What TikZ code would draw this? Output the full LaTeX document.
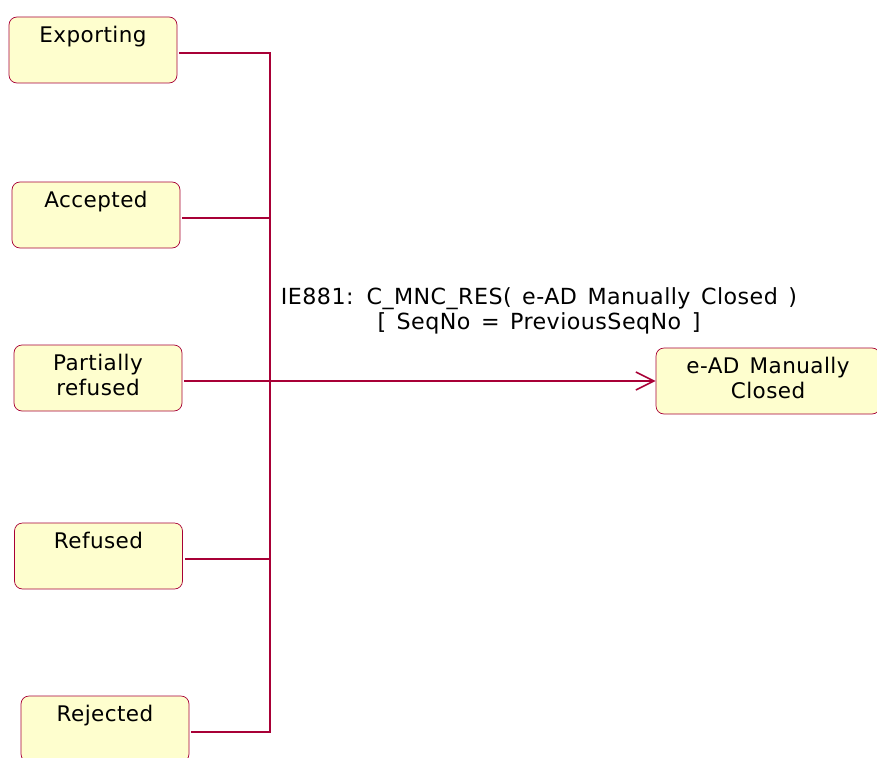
\documentclass[tikz,border=0pt]{standalone}
\usepackage{fontspec}
\setmainfont[LetterSpace=2, WordSpace=1.4]{DejaVu Sans}
\usetikzlibrary{arrows.meta}
\definecolor{umlred}{HTML}{A80036}
\definecolor{umlfill}{HTML}{FEFECE}
\begin{document}
\begin{tikzpicture}[x=1pt, y=-1pt,
    state/.style={draw=umlred, fill=umlfill, rounded corners=8pt, line width=0.7pt,
      minimum width=168pt, minimum height=66pt, inner sep=0pt},
    caption/.style={font=\fontsize{21.5}{25}\selectfont, align=center, anchor=north, inner sep=0pt},
    link/.style={draw=umlred, line width=1.6pt}]
  \useasboundingbox (0,0) rectangle (877,757);

  % Source states
  \foreach \n/\t/\x/\y in {
    exp/Exporting/93/50,
    acc/Accepted/96/215,
    par/{Partially\\refused}/98/378,
    ref/Refused/98.5/556,
    rej/Rejected/105/729
  } {
    \node [state] (\n) at (\x, \y) {};
    \node [caption] (\n-txt) at ([yshift=-9pt]\n.north) {\t};
  }

  % Target state
  \node [state, minimum width=224pt] (tgt) at (768, 381) {};
  \node [caption] (tgt-txt) at ([yshift=-9pt]tgt.north) {e-AD Manually\\Closed};

  % Junction
  \coordinate (bus) at (270, 381);
  \foreach \n in {exp, acc, par, ref, rej}
    \draw [link] ([xshift=2pt, yshift=-3pt]\n.east) -| (bus);

  \draw [link, -{Straight Barb[length=18pt, width=18pt]}] (bus) -- (tgt.west |- bus);
  \node [caption, anchor=center, font=\fontsize{22.2}{25}\selectfont] (lbl) at (539, 310.5)
    {IE881: C\_MNC\_RES( e-AD Manually Closed )\\{[} SeqNo = PreviousSeqNo {]}};
\end{tikzpicture}
\end{document}
